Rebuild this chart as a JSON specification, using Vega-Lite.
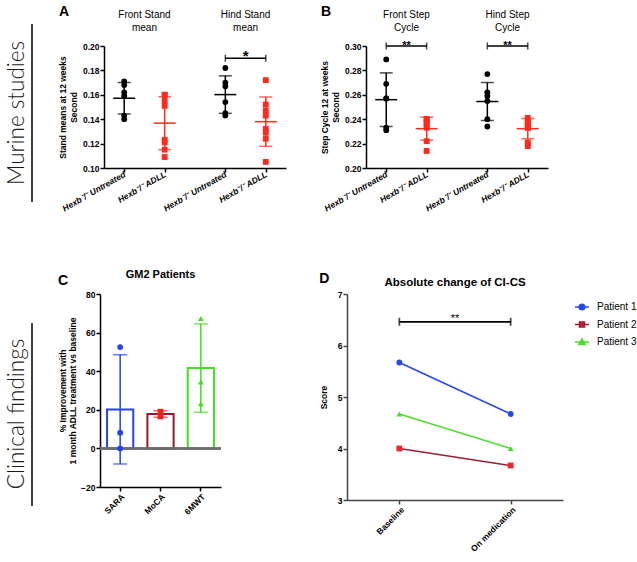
{
  "$schema": "https://vega.github.io/schema/vega-lite/v6.json",
  "padding": {"left": 5, "top": 5, "right": 0, "bottom": 3},
  "background": "white",
  "config": {
    "font": "Liberation Sans",
    "view": {"stroke": null},
    "axis": {"labelFont": "Liberation Sans", "labelFontSize": 8.5, "labelFontWeight": "bold", "labelColor": "#000", "labelOverlap": false, "titleFont": "Liberation Sans", "titleFontSize": 8.5, "titleFontWeight": "bold", "titleColor": "#000", "domainColor": "#000", "domainWidth": 1.5, "tickColor": "#000", "tickWidth": 1.5, "tickSize": 4, "labelPadding": 1, "grid": false},
    "title": {"font": "Liberation Sans", "fontSize": 14, "fontWeight": "bold", "color": "#000", "anchor": "start", "frame": "bounds"},
    "text": {"font": "Liberation Sans", "color": "#000"}
  },
  "datasets": {
    "stand": [
      {"key": "Front Untreated", "g": "Untreated", "v": 0.171},
      {"key": "Front Untreated", "g": "Untreated", "v": 0.168},
      {"key": "Front Untreated", "g": "Untreated", "v": 0.162},
      {"key": "Front Untreated", "g": "Untreated", "v": 0.159},
      {"key": "Front Untreated", "g": "Untreated", "v": 0.143},
      {"key": "Front Untreated", "g": "Untreated", "v": 0.140},
      {"key": "Front ADLL", "g": "ADLL", "v": 0.160},
      {"key": "Front ADLL", "g": "ADLL", "v": 0.160},
      {"key": "Front ADLL", "g": "ADLL", "v": 0.155},
      {"key": "Front ADLL", "g": "ADLL", "v": 0.151},
      {"key": "Front ADLL", "g": "ADLL", "v": 0.123},
      {"key": "Front ADLL", "g": "ADLL", "v": 0.121},
      {"key": "Front ADLL", "g": "ADLL", "v": 0.115},
      {"key": "Front ADLL", "g": "ADLL", "v": 0.109},
      {"key": "Hind Untreated", "g": "Untreated", "v": 0.182},
      {"key": "Hind Untreated", "g": "Untreated", "v": 0.170},
      {"key": "Hind Untreated", "g": "Untreated", "v": 0.167},
      {"key": "Hind Untreated", "g": "Untreated", "v": 0.154},
      {"key": "Hind Untreated", "g": "Untreated", "v": 0.145},
      {"key": "Hind Untreated", "g": "Untreated", "v": 0.143},
      {"key": "Hind ADLL", "g": "ADLL", "v": 0.172},
      {"key": "Hind ADLL", "g": "ADLL", "v": 0.152},
      {"key": "Hind ADLL", "g": "ADLL", "v": 0.147},
      {"key": "Hind ADLL", "g": "ADLL", "v": 0.143},
      {"key": "Hind ADLL", "g": "ADLL", "v": 0.132},
      {"key": "Hind ADLL", "g": "ADLL", "v": 0.129},
      {"key": "Hind ADLL", "g": "ADLL", "v": 0.124},
      {"key": "Hind ADLL", "g": "ADLL", "v": 0.105}
    ],
    "step": [
      {"key": "Front Untreated", "g": "Untreated", "v": 0.289},
      {"key": "Front Untreated", "g": "Untreated", "v": 0.269},
      {"key": "Front Untreated", "g": "Untreated", "v": 0.257},
      {"key": "Front Untreated", "g": "Untreated", "v": 0.257},
      {"key": "Front Untreated", "g": "Untreated", "v": 0.233},
      {"key": "Front Untreated", "g": "Untreated", "v": 0.231},
      {"key": "Front ADLL", "g": "ADLL", "v": 0.240},
      {"key": "Front ADLL", "g": "ADLL", "v": 0.240},
      {"key": "Front ADLL", "g": "ADLL", "v": 0.238},
      {"key": "Front ADLL", "g": "ADLL", "v": 0.237},
      {"key": "Front ADLL", "g": "ADLL", "v": 0.234},
      {"key": "Front ADLL", "g": "ADLL", "v": 0.233},
      {"key": "Front ADLL", "g": "ADLL", "v": 0.222},
      {"key": "Front ADLL", "g": "ADLL", "v": 0.214},
      {"key": "Hind Untreated", "g": "Untreated", "v": 0.277},
      {"key": "Hind Untreated", "g": "Untreated", "v": 0.262},
      {"key": "Hind Untreated", "g": "Untreated", "v": 0.259},
      {"key": "Hind Untreated", "g": "Untreated", "v": 0.255},
      {"key": "Hind Untreated", "g": "Untreated", "v": 0.240},
      {"key": "Hind Untreated", "g": "Untreated", "v": 0.234},
      {"key": "Hind ADLL", "g": "ADLL", "v": 0.241},
      {"key": "Hind ADLL", "g": "ADLL", "v": 0.238},
      {"key": "Hind ADLL", "g": "ADLL", "v": 0.238},
      {"key": "Hind ADLL", "g": "ADLL", "v": 0.236},
      {"key": "Hind ADLL", "g": "ADLL", "v": 0.233},
      {"key": "Hind ADLL", "g": "ADLL", "v": 0.233},
      {"key": "Hind ADLL", "g": "ADLL", "v": 0.221},
      {"key": "Hind ADLL", "g": "ADLL", "v": 0.218}
    ],
    "gm2": [
      {"t": "SARA", "v": 52.5},
      {"t": "SARA", "v": 8.1},
      {"t": "SARA", "v": 0.0},
      {"t": "MoCA", "v": 16.6},
      {"t": "MoCA", "v": 19.0},
      {"t": "6MWT", "v": 67.3},
      {"t": "6MWT", "v": 34.4},
      {"t": "6MWT", "v": 23.2}
    ],
    "cics": [
      {"p": "Patient 1", "time": "Baseline", "score": 5.67},
      {"p": "Patient 1", "time": "On medication", "score": 4.67},
      {"p": "Patient 2", "time": "Baseline", "score": 4.0},
      {"p": "Patient 2", "time": "On medication", "score": 3.67},
      {"p": "Patient 3", "time": "Baseline", "score": 4.67},
      {"p": "Patient 3", "time": "On medication", "score": 4.0}
    ]
  },
  "resolve": {"scale": {"color": "independent", "shape": "independent", "stroke": "independent"}},
  "spacing": 55,
  "vconcat": [
    {
      "spacing": 25,
      "resolve": {"scale": {"color": "independent", "shape": "independent", "stroke": "independent"}},
      "hconcat": [
        {
          "width": 25,
          "height": 156,
          "layer": [
            {
              "data": {"values": [{"s": "Murine studies"}]},
              "mark": {"type": "text", "angle": 270, "font": "Lato", "fontWeight": 300, "fontSize": 22.5, "align": "center", "baseline": "middle", "color": "#1a1a1a"},
              "encoding": {
                "text": {"field": "s"},
                "x": {"datum": 0.4, "type": "quantitative", "scale": {"domain": [0, 1]}, "axis": null},
                "y": {"datum": 0.571, "type": "quantitative", "scale": {"domain": [0, 1]}, "axis": null}
              }
            },
            {
              "data": {"values": [{"s": "line"}]},
              "mark": {"type": "rule", "color": "#000", "strokeWidth": 1.5},
              "encoding": {
                "x": {"datum": 1, "type": "quantitative"},
                "y": {"datum": 0, "type": "quantitative"},
                "y2": {"datum": 1.141}
              }
            }
          ]
        },
        {
          "spacing": 34,
          "hconcat": [
            {
              "width": 182,
              "height": 122,
              "title": {"text": "A", "offset": -9},
              "data": {"name": "stand"},
              "resolve": {"scale": {"y": "independent"}},
              "layer": [
                {
                  "mark": {"type": "errorbar", "extent": "stdev", "ticks": {"size": 13}, "thickness": 1.5},
                  "encoding": {
                    "x": {"field": "key", "type": "nominal"},
                    "y": {"field": "v", "type": "quantitative", "scale": {"domain": [0.1, 0.2], "nice": false, "zero": false}, "axis": null},
                    "color": {"field": "g", "type": "nominal", "legend": null}
                  }
                },
                {
                  "layer": [
                    {
                      "mark": {"type": "tick", "size": 22, "thickness": 1.5},
                      "encoding": {
                        "x": {"field": "key", "type": "nominal"},
                        "y": {"aggregate": "mean", "field": "v", "type": "quantitative"},
                        "color": {"field": "g", "type": "nominal", "legend": null}
                      }
                    },
                    {
                      "mark": {"type": "point", "filled": true, "size": 34, "opacity": 1},
                      "encoding": {
                        "x": {"field": "key", "type": "nominal", "scale": {"type": "point", "domain": ["Front Untreated", "Front", "Front ADLL", "gap1", "gap2", "Hind Untreated", "Hind", "Hind ADLL"], "padding": 1.5}, "axis": {"values": ["Front Untreated", "Front ADLL", "Hind Untreated", "Hind ADLL"], "labelExpr": "indexof(datum.value, 'Untreated') >= 0 ? 'Hexb⁻/⁻ Untreated' : 'Hexb⁻/⁻  ADLL'", "labelAngle": -30, "labelFontStyle": "italic", "title": null}},
                        "y": {"field": "v", "type": "quantitative", "scale": {"domain": [0.1, 0.2], "nice": false, "zero": false}, "axis": {"values": [0.1, 0.12, 0.14, 0.16, 0.18, 0.2], "tickCount": 6, "format": ".2f", "title": ["Stand means at 12 weeks", "Second"], "titlePadding": 4}},
                        "color": {"field": "g", "type": "nominal", "scale": {"domain": ["Untreated", "ADLL"], "range": ["#000000", "#ff2a1c"]}, "legend": null},
                        "shape": {"field": "g", "type": "nominal", "scale": {"domain": ["Untreated", "ADLL"], "range": ["circle", "square"]}, "legend": null}
                      }
                    },
                    {
                      "data": {"values": [{"key": "Front", "t": "Front Stand\nmean"}, {"key": "Hind", "t": "Hind Stand\nmean"}]},
                      "mark": {"type": "text", "fontSize": 10, "lineBreak": "\n", "baseline": "bottom", "lineHeight": 13, "color": "#000"},
                      "encoding": {
                        "x": {"field": "key", "type": "nominal"},
                        "y": {"datum": 0.221, "type": "quantitative"},
                        "text": {"field": "t"}
                      }
                    },
                    {
                      "data": {"values": [{"x1": "Hind Untreated", "x2": "Hind ADLL", "mid": "Hind", "y": 0.19, "s": "*"}]},
                      "layer": [
                        {"mark": {"type": "rule", "color": "#000", "strokeWidth": 1.5}, "encoding": {"x": {"field": "x1", "type": "nominal"}, "x2": {"field": "x2"}, "y": {"field": "y", "type": "quantitative"}}},
                        {"mark": {"type": "tick", "orient": "vertical", "size": 7, "thickness": 1.5, "color": "#000"}, "encoding": {"x": {"field": "x1", "type": "nominal"}, "y": {"field": "y", "type": "quantitative"}}},
                        {"mark": {"type": "tick", "orient": "vertical", "size": 7, "thickness": 1.5, "color": "#000"}, "encoding": {"x": {"field": "x2", "type": "nominal"}, "y": {"field": "y", "type": "quantitative"}}},
                        {"mark": {"type": "text", "fontSize": 15, "fontWeight": "bold", "baseline": "alphabetic", "dy": 3, "color": "#000"}, "encoding": {"x": {"field": "mid", "type": "nominal"}, "y": {"field": "y", "type": "quantitative"}, "text": {"field": "s"}}}
                      ]
                    }
                  ]
                }
              ]
            },
            {
              "width": 182,
              "height": 122,
              "title": {"text": "B", "offset": -9},
              "data": {"name": "step"},
              "resolve": {"scale": {"y": "independent"}},
              "layer": [
                {
                  "mark": {"type": "errorbar", "extent": "stdev", "ticks": {"size": 13}, "thickness": 1.5},
                  "encoding": {
                    "x": {"field": "key", "type": "nominal"},
                    "y": {"field": "v", "type": "quantitative", "scale": {"domain": [0.2, 0.3], "nice": false, "zero": false}, "axis": null},
                    "color": {"field": "g", "type": "nominal", "legend": null}
                  }
                },
                {
                  "layer": [
                    {
                      "mark": {"type": "tick", "size": 22, "thickness": 1.5},
                      "encoding": {
                        "x": {"field": "key", "type": "nominal"},
                        "y": {"aggregate": "mean", "field": "v", "type": "quantitative"},
                        "color": {"field": "g", "type": "nominal", "legend": null}
                      }
                    },
                    {
                      "mark": {"type": "point", "filled": true, "size": 34, "opacity": 1},
                      "encoding": {
                        "x": {"field": "key", "type": "nominal", "scale": {"type": "point", "domain": ["Front Untreated", "Front", "Front ADLL", "gap1", "gap2", "Hind Untreated", "Hind", "Hind ADLL"], "padding": 1.5}, "axis": {"values": ["Front Untreated", "Front ADLL", "Hind Untreated", "Hind ADLL"], "labelExpr": "indexof(datum.value, 'Untreated') >= 0 ? 'Hexb⁻/⁻ Untreated' : 'Hexb⁻/⁻  ADLL'", "labelAngle": -30, "labelFontStyle": "italic", "title": null}},
                        "y": {"field": "v", "type": "quantitative", "scale": {"domain": [0.2, 0.3], "nice": false, "zero": false}, "axis": {"values": [0.2, 0.22, 0.24, 0.26, 0.28, 0.3], "tickCount": 6, "format": ".2f", "title": ["Step Cycle 12 at weeks", "Second"], "titlePadding": 4}},
                        "color": {"field": "g", "type": "nominal", "scale": {"domain": ["Untreated", "ADLL"], "range": ["#000000", "#ff2a1c"]}, "legend": null},
                        "shape": {"field": "g", "type": "nominal", "scale": {"domain": ["Untreated", "ADLL"], "range": ["circle", "square"]}, "legend": null}
                      }
                    },
                    {
                      "data": {"values": [{"key": "Front", "t": "Front Step\nCycle"}, {"key": "Hind", "t": "Hind Step\nCycle"}]},
                      "mark": {"type": "text", "fontSize": 10, "lineBreak": "\n", "baseline": "bottom", "lineHeight": 13, "color": "#000"},
                      "encoding": {
                        "x": {"field": "key", "type": "nominal"},
                        "y": {"datum": 0.321, "type": "quantitative"},
                        "text": {"field": "t"}
                      }
                    },
                    {
                      "data": {"values": [{"x1": "Front Untreated", "x2": "Front ADLL", "mid": "Front", "y": 0.3, "s": "**"}, {"x1": "Hind Untreated", "x2": "Hind ADLL", "mid": "Hind", "y": 0.3, "s": "**"}]},
                      "layer": [
                        {"mark": {"type": "rule", "color": "#000", "strokeWidth": 1.5}, "encoding": {"x": {"field": "x1", "type": "nominal"}, "x2": {"field": "x2"}, "y": {"field": "y", "type": "quantitative"}}},
                        {"mark": {"type": "tick", "orient": "vertical", "size": 7, "thickness": 1.5, "color": "#000"}, "encoding": {"x": {"field": "x1", "type": "nominal"}, "y": {"field": "y", "type": "quantitative"}}},
                        {"mark": {"type": "tick", "orient": "vertical", "size": 7, "thickness": 1.5, "color": "#000"}, "encoding": {"x": {"field": "x2", "type": "nominal"}, "y": {"field": "y", "type": "quantitative"}}},
                        {"mark": {"type": "text", "fontSize": 11, "fontWeight": "bold", "baseline": "alphabetic", "dy": 3, "color": "#000"}, "encoding": {"x": {"field": "mid", "type": "nominal"}, "y": {"field": "y", "type": "quantitative"}, "text": {"field": "s"}}}
                      ]
                    }
                  ]
                }
              ]
            }
          ]
        }
      ]
    },
    {
      "spacing": 25,
      "resolve": {"scale": {"color": "independent", "shape": "independent", "stroke": "independent"}},
      "hconcat": [
        {
          "width": 25,
          "height": 212,
          "layer": [
            {
              "data": {"values": [{"s": "Clinical findings"}]},
              "mark": {"type": "text", "angle": 270, "font": "Lato", "fontWeight": 300, "fontSize": 22.5, "align": "center", "baseline": "middle", "color": "#1a1a1a"},
              "encoding": {
                "text": {"field": "s"},
                "x": {"datum": 0.4, "type": "quantitative", "scale": {"domain": [0, 1]}, "axis": null},
                "y": {"datum": 0.434, "type": "quantitative", "scale": {"domain": [0, 1]}, "axis": null}
              }
            },
            {
              "data": {"values": [{"s": "line"}]},
              "mark": {"type": "rule", "color": "#000", "strokeWidth": 1.5},
              "encoding": {
                "x": {"datum": 1, "type": "quantitative"},
                "y": {"datum": 0, "type": "quantitative"},
                "y2": {"datum": 0.863}
              }
            }
          ]
        },
        {
          "spacing": 97,
          "resolve": {"scale": {"color": "independent", "shape": "independent", "stroke": "independent"}},
          "hconcat": [
            {
              "width": 121,
              "height": 193,
              "title": {"text": "C", "offset": -19},
              "data": {"name": "gm2"},
              "resolve": {"scale": {"y": "independent"}},
              "layer": [
                {
                  "layer": [
                    {
                      "mark": {"type": "bar", "fill": "#ffffff", "strokeWidth": 2},
                      "encoding": {
                        "x": {"field": "t", "type": "nominal", "scale": {"domain": ["SARA", "MoCA", "6MWT"], "paddingInner": 0.35}, "axis": {"labelAngle": -45, "title": null}},
                        "y": {"aggregate": "mean", "field": "v", "type": "quantitative", "scale": {"domain": [-20, 80], "nice": false}, "axis": {"values": [-20, 0, 20, 40, 60, 80], "tickCount": 6, "title": ["% Improvement with", "1 month ADLL treatment vs baseline"], "titlePadding": 3}},
                        "stroke": {"field": "t", "type": "nominal", "scale": {"domain": ["SARA", "MoCA", "6MWT"], "range": ["#2244ee", "#8e1b2e", "#44dd22"]}, "legend": null}
                      }
                    },
                    {
                      "mark": {"type": "rule", "color": "#6b6b6b", "strokeWidth": 1.5},
                      "encoding": {"y": {"datum": 0, "type": "quantitative"}}
                    },
                    {
                      "data": {"values": [{"s": "GM2 Patients"}]},
                      "mark": {"type": "text", "fontSize": 11, "fontWeight": "bold", "baseline": "middle", "color": "#000"},
                      "encoding": {"text": {"field": "s"}, "y": {"datum": 90, "type": "quantitative"}}
                    }
                  ]
                },
                {
                  "mark": {"type": "errorbar", "extent": "stdev", "ticks": {"size": 14}, "thickness": 1.5},
                  "encoding": {
                    "x": {"field": "t", "type": "nominal"},
                    "y": {"field": "v", "type": "quantitative", "scale": {"domain": [-20, 80], "nice": false, "zero": false}, "axis": null},
                    "color": {"field": "t", "type": "nominal", "scale": {"domain": ["SARA", "MoCA", "6MWT"], "range": ["#2244ee", "#e82222", "#44dd22"]}, "legend": null}
                  }
                },
                {
                  "mark": {"type": "point", "filled": true, "size": 34, "opacity": 1},
                  "encoding": {
                    "x": {"field": "t", "type": "nominal"},
                    "y": {"field": "v", "type": "quantitative", "scale": {"domain": [-20, 80], "nice": false, "zero": false}, "axis": null},
                    "color": {"field": "t", "type": "nominal", "legend": null},
                    "shape": {"field": "t", "type": "nominal", "scale": {"domain": ["SARA", "MoCA", "6MWT"], "range": ["circle", "square", "triangle-up"]}, "legend": null}
                  }
                }
              ]
            },
            {
              "width": 216,
              "height": 206,
              "title": {"text": "D", "offset": -9},
              "data": {"name": "cics"},
              "layer": [
                {
                  "mark": {"type": "line", "strokeWidth": 1.5},
                  "encoding": {
                    "x": {"field": "time", "type": "nominal", "scale": {"type": "point", "domain": ["Baseline", "On medication"], "padding": 0.47}, "axis": {"labelAngle": -45, "title": null, "domainColor": "#444", "tickColor": "#444"}},
                    "y": {"field": "score", "type": "quantitative", "scale": {"domain": [3, 7], "nice": false, "zero": false}, "axis": {"values": [3, 4, 5, 6, 7], "tickCount": 5, "format": "d", "title": "Score", "titlePadding": 9, "domainColor": "#444", "tickColor": "#444"}},
                    "stroke": {"field": "p", "type": "nominal", "scale": {"domain": ["Patient 1", "Patient 2", "Patient 3"], "range": ["#2446f0", "#9a1c32", "#48dd28"]}, "legend": {"title": null, "orient": "right", "offset": 6, "padding": 5, "labelFont": "Liberation Sans", "labelFontSize": 10, "labelColor": "#000", "symbolSize": 196, "symbolStrokeWidth": 1.5, "labelOffset": 7, "rowPadding": 3.5, "encode": {"symbols": {"update": {"shape": {"signal": "datum.value === 'Patient 1' ? 'M-1,0H1M-0.4,0A0.4,0.4,0,1,1,0.4,0A0.4,0.4,0,1,1,-0.4,0Z' : datum.value === 'Patient 2' ? 'M-1,0H1M-0.36,-0.36H0.36V0.36H-0.36Z' : 'M-1,0H1M0,-0.42L0.44,0.34H-0.44Z'"}, "stroke": {"signal": "datum.value === 'Patient 1' ? '#2446f0' : datum.value === 'Patient 2' ? '#9a1c32' : '#48dd28'"}, "fill": {"signal": "datum.value === 'Patient 1' ? '#2446f0' : datum.value === 'Patient 2' ? '#e8282a' : '#48dd28'"}, "strokeWidth": {"value": 1.5}, "opacity": {"value": 1}}}}}}
                  }
                },
                {
                  "transform": [{"filter": "datum.p === 'Patient 1'"}],
                  "mark": {"type": "point", "shape": "circle", "filled": true, "size": 34, "opacity": 1},
                  "encoding": {
                    "x": {"field": "time", "type": "nominal"},
                    "y": {"field": "score", "type": "quantitative"},
                    "color": {"field": "p", "type": "nominal", "scale": {"domain": ["Patient 1", "Patient 2", "Patient 3"], "range": ["#2446f0", "#e8282a", "#48dd28"]}, "legend": {"title": null, "orient": "right", "offset": 6, "padding": 5, "labelFont": "Liberation Sans", "labelFontSize": 10, "labelColor": "#000", "symbolSize": 196, "symbolStrokeWidth": 1.5, "labelOffset": 7, "rowPadding": 3.5, "encode": {"symbols": {"update": {"shape": {"signal": "datum.value === 'Patient 1' ? 'M-1,0H1M-0.4,0A0.4,0.4,0,1,1,0.4,0A0.4,0.4,0,1,1,-0.4,0Z' : datum.value === 'Patient 2' ? 'M-1,0H1M-0.36,-0.36H0.36V0.36H-0.36Z' : 'M-1,0H1M0,-0.42L0.44,0.34H-0.44Z'"}, "stroke": {"signal": "datum.value === 'Patient 1' ? '#2446f0' : datum.value === 'Patient 2' ? '#9a1c32' : '#48dd28'"}, "fill": {"signal": "datum.value === 'Patient 1' ? '#2446f0' : datum.value === 'Patient 2' ? '#e8282a' : '#48dd28'"}, "strokeWidth": {"value": 1.5}, "opacity": {"value": 1}}}}}}
                  }
                },
                {
                  "transform": [{"filter": "datum.p === 'Patient 2'"}],
                  "mark": {"type": "point", "shape": "square", "filled": true, "size": 34, "opacity": 1},
                  "encoding": {
                    "x": {"field": "time", "type": "nominal"},
                    "y": {"field": "score", "type": "quantitative"},
                    "color": {"field": "p", "type": "nominal"}
                  }
                },
                {
                  "transform": [{"filter": "datum.p === 'Patient 3'"}],
                  "mark": {"type": "point", "shape": "triangle-up", "filled": true, "size": 34, "opacity": 1},
                  "encoding": {
                    "x": {"field": "time", "type": "nominal"},
                    "y": {"field": "score", "type": "quantitative"},
                    "color": {"field": "p", "type": "nominal"}
                  }
                },
                {
                  "data": {"values": [{"x1": "Baseline", "x2": "On medication", "y": 6.46, "s": "**"}]},
                  "layer": [
                    {"mark": {"type": "rule", "color": "#000", "strokeWidth": 1.8}, "encoding": {"x": {"field": "x1", "type": "nominal"}, "x2": {"field": "x2"}, "y": {"field": "y", "type": "quantitative"}}},
                    {"mark": {"type": "tick", "orient": "vertical", "size": 8, "thickness": 1.8, "color": "#000"}, "encoding": {"x": {"field": "x1", "type": "nominal"}, "y": {"field": "y", "type": "quantitative"}}},
                    {"mark": {"type": "tick", "orient": "vertical", "size": 8, "thickness": 1.8, "color": "#000"}, "encoding": {"x": {"field": "x2", "type": "nominal"}, "y": {"field": "y", "type": "quantitative"}}},
                    {"mark": {"type": "text", "fontSize": 11, "baseline": "alphabetic", "dy": 0, "color": "#000"}, "encoding": {"y": {"field": "y", "type": "quantitative"}, "text": {"field": "s"}}}
                  ]
                },
                {
                  "data": {"values": [{"s": "Absolute change of CI-CS"}]},
                  "mark": {"type": "text", "fontSize": 11.5, "fontWeight": "bold", "baseline": "middle", "color": "#000"},
                  "encoding": {"text": {"field": "s"}, "y": {"datum": 7.22, "type": "quantitative"}}
                }
              ]
            }
          ]
        }
      ]
    }
  ]
}
